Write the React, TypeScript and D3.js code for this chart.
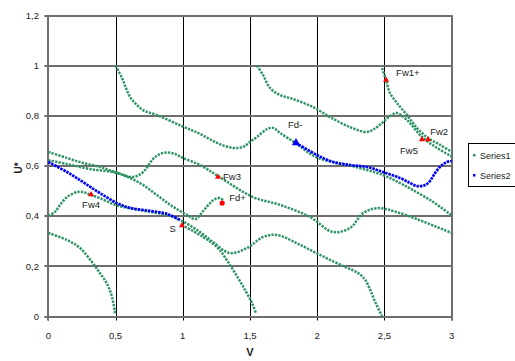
import React from 'react';
import * as d3 from 'd3';

type P = [number, number];

const W = 515;
const H = 361;

const xTickValues = [0, 0.5, 1, 1.5, 2, 2.5, 3];
const xTickLabels = ['0', '0,5', '1', '1,5', '2', '2,5', '3'];
const yTickValues = [0, 0.2, 0.4, 0.6, 0.8, 1, 1.2];
const yTickLabels = ['0', '0,2', '0,4', '0,6', '0,8', '1', '1,2'];

// Series1 – branches of the green family (V, U*)
const s1FromHalf: P[] = [
  [0.5, 1.0], [0.548, 0.951], [0.578, 0.911], [0.608, 0.875], [0.645, 0.851],
  [0.704, 0.823], [0.808, 0.803], [0.994, 0.759], [1.128, 0.728], [1.255, 0.692],
  [1.374, 0.672], [1.448, 0.676], [1.5, 0.696], [1.552, 0.716], [1.627, 0.747],
  [1.672, 0.752], [1.723, 0.732], [1.842, 0.69], [1.998, 0.634], [2.244, 0.602],
  [2.489, 0.564], [2.616, 0.532], [2.712, 0.504], [2.861, 0.457], [3.0, 0.403],
];
const s1FromOneHalf: P[] = [
  [1.552, 1.0], [1.597, 0.963], [1.649, 0.911], [1.723, 0.883], [1.82, 0.867],
  [1.968, 0.835], [2.095, 0.795], [2.244, 0.755], [2.37, 0.736], [2.444, 0.755],
  [2.541, 0.799], [2.593, 0.811], [2.668, 0.783], [2.779, 0.716], [2.891, 0.672],
  [3.0, 0.638],
];
const s1FromTwoHalf: P[] = [
  [2.482, 0.99], [2.512, 0.943], [2.541, 0.891], [2.593, 0.851], [2.668, 0.803],
  [2.743, 0.751], [2.825, 0.711], [2.914, 0.684], [3.0, 0.656],
];
const s1UpperLeft: P[] = [
  [0, 0.656], [0.139, 0.632], [0.258, 0.612], [0.384, 0.596], [0.497, 0.576],
  [0.631, 0.556], [0.705, 0.576], [0.779, 0.628], [0.831, 0.648], [0.883, 0.654],
  [0.942, 0.648], [1.002, 0.632], [1.128, 0.604], [1.262, 0.56], [1.523, 0.476],
  [1.723, 0.445], [1.946, 0.397], [2.117, 0.337], [2.244, 0.353], [2.341, 0.412],
  [2.445, 0.432], [2.616, 0.412], [3.0, 0.333],
];
const s1MiddleLeft: P[] = [
  [0, 0.623], [0.139, 0.608], [0.31, 0.588], [0.511, 0.572], [0.682, 0.532],
  [0.808, 0.484], [0.92, 0.44], [1.032, 0.405], [1.092, 0.388], [1.151, 0.42],
  [1.203, 0.452], [1.24, 0.468], [1.277, 0.472], [1.299, 0.464],
];
const s1LowerLeft: P[] = [
  [0, 0.401], [0.05, 0.417], [0.087, 0.445], [0.139, 0.476], [0.213, 0.496],
  [0.258, 0.496], [0.318, 0.484], [0.384, 0.472], [0.497, 0.445], [0.631, 0.429],
  [0.757, 0.417], [0.883, 0.405], [0.994, 0.381], [1.128, 0.337], [1.225, 0.297],
  [1.351, 0.253], [1.478, 0.273], [1.597, 0.317], [1.701, 0.325], [1.859, 0.289],
  [2.022, 0.245], [2.193, 0.201], [2.305, 0.173], [2.357, 0.146], [2.394, 0.106],
  [2.431, 0.058], [2.483, 0.0],
];
const s1FromS: P[] = [
  [0.994, 0.365], [1.151, 0.317], [1.262, 0.273], [1.337, 0.217], [1.411, 0.154],
  [1.471, 0.098], [1.515, 0.054], [1.545, 0.012],
];
const s1Bottom: P[] = [
  [0, 0.333], [0.139, 0.305], [0.236, 0.273], [0.325, 0.217], [0.384, 0.173],
  [0.437, 0.13], [0.474, 0.078], [0.497, 0.012],
];
const series1 = [s1FromHalf, s1FromOneHalf, s1FromTwoHalf, s1UpperLeft, s1MiddleLeft, s1LowerLeft, s1FromS, s1Bottom];

// Series2 – blue branches
const s2Left: P[] = [
  [0, 0.616], [0.139, 0.576], [0.258, 0.536], [0.384, 0.492], [0.511, 0.452],
  [0.608, 0.433], [0.757, 0.421], [0.883, 0.409], [0.979, 0.385],
];
const s2Right: P[] = [
  [1.842, 0.692], [1.998, 0.644], [2.117, 0.616], [2.244, 0.604], [2.37, 0.596],
  [2.489, 0.576], [2.616, 0.552], [2.691, 0.532], [2.743, 0.52], [2.803, 0.524],
  [2.838, 0.54], [2.876, 0.572], [2.92, 0.6], [2.965, 0.616], [3.0, 0.62],
];
const series2 = [s2Left, s2Right];

// Labelled points
const pointNames = ['Fw1+', 'Fw2', 'Fw5', 'Fd-', 'Fw3', 'Fd+', 'Fw4', 'S'];
const pointV = [2.512, 2.825, 2.779, 1.842, 1.262, 1.293, 0.318, 0.994];
const pointU = [0.943, 0.706, 0.706, 0.692, 0.556, 0.452, 0.486, 0.363];
const pointKind = ['tri', 'tri', 'tri', 'blueTri', 'tri', 'dot', 'tri', 'tri'];
// label offsets (px) relative to the point, and anchor
const labelDx = [10, 2, -4, -8, 5, 7, 0, -6];
const labelDy = [-7, -8, 11, -18, 0, -5, 10, 3];
const labelAnchor = ['start', 'start', 'end', 'start', 'start', 'start', 'middle', 'end'];

const legendNames = ['Series1', 'Series2'];

const GREEN = '#2e9463';
const BLUE = '#0000ff';

export default function App() {
  const x = d3.scaleLinear().domain([0, 3]).range([48.3, 451.7]);
  const y = d3.scaleLinear().domain([0, 1.2]).range([316.5, 15.5]);
  const line = d3
    .line<P>()
    .x((d) => x(d[0]))
    .y((d) => y(d[1]))
    .curve(d3.curveCatmullRom.alpha(0.5));
  const tri = d3.symbol().type(d3.symbolTriangle).size(16)() as string;
  const triBig = d3.symbol().type(d3.symbolTriangle).size(30)() as string;

  const font = "'Liberation Sans', Arial, sans-serif";

  return (
    <svg
      width={W}
      height={H}
      style={{ position: 'absolute', left: 0, top: 0, background: '#fff' }}
      fontFamily={font}
    >
      <rect width={W} height={H} fill="#fff" />
      {/* vertical grid */}
      {xTickValues.map((v, i) => (
        <line
          key={'vx' + i}
          x1={Math.round(x(v)) + 0.5}
          x2={Math.round(x(v)) + 0.5}
          y1={y(1.2)}
          y2={y(0) + 4}
          stroke="#000"
          strokeWidth={1}
        />
      ))}
      {/* horizontal grid */}
      {yTickValues.map((v, i) => (
        <line
          key={'hy' + i}
          x1={x(0) - 4}
          x2={x(3)}
          y1={Math.round(y(v))}
          y2={Math.round(y(v))}
          stroke="#6e6e6e"
          strokeWidth={2}
        />
      ))}
      {/* frame */}
      <line x1={Math.round(x(0))} x2={Math.round(x(0))} y1={y(1.2)} y2={y(0) + 4} stroke="#6e6e6e" strokeWidth={2} />
      <line x1={Math.round(x(3))} x2={Math.round(x(3))} y1={y(1.2)} y2={y(0) + 4} stroke="#6e6e6e" strokeWidth={2} />

      {/* y tick labels */}
      {yTickValues.map((v, i) => (
        <text key={'yl' + i} x={39} y={y(v)} dy="0.35em" textAnchor="end" fontSize={9.5} fill="#222">
          {yTickLabels[i]}
        </text>
      ))}
      {/* x tick labels */}
      {xTickValues.map((v, i) => (
        <text key={'xl' + i} x={x(v)} y={336} dy="0.35em" textAnchor="middle" fontSize={9.5} fill="#222">
          {xTickLabels[i]}
        </text>
      ))}

      {/* axis titles */}
      <text x={250} y={356} textAnchor="middle" fontSize={11} fontWeight="bold" fill="#222">
        V
      </text>
      <text
        transform={`translate(18,168) rotate(-90)`}
        textAnchor="middle"
        dy="0.35em"
        fontSize={10}
        fontWeight="bold"
        fill="#222"
      >
        U*
      </text>

      {/* Series1 */}
      {series1.map((b, i) => (
        <path
          key={'s1' + i}
          d={line(b) || ''}
          fill="none"
          stroke={GREEN}
          strokeWidth={2.5}
          strokeDasharray="2.3 1.2"
        />
      ))}
      {/* Series2 */}
      {series2.map((b, i) => (
        <path
          key={'s2' + i}
          d={line(b) || ''}
          fill="none"
          stroke={BLUE}
          strokeWidth={2.7}
          strokeDasharray="2.5 0.9"
        />
      ))}

      {/* labelled points */}
      {pointNames.map((n, i) => {
        const px = x(pointV[i]);
        const py = y(pointU[i]);
        const k = pointKind[i];
        return (
          <g key={'pt' + i}>
            {k === 'dot' ? (
              <circle cx={px} cy={py} r={2.6} fill="#ff0000" />
            ) : (
              <path
                d={k === 'blueTri' ? triBig : tri}
                transform={`translate(${px},${py})`}
                fill={k === 'blueTri' ? BLUE : '#ff0000'}
              />
            )}
            <text
              x={px + labelDx[i]}
              y={py + labelDy[i]}
              dy="0.35em"
              textAnchor={labelAnchor[i] as any}
              fontSize={9.5}
              fill="#222"
            >
              {n}
            </text>
          </g>
        );
      })}

      {/* legend */}
      <rect x={468.5} y={143.5} width={60} height={43} fill="#fff" stroke="#000" strokeWidth={1} />
      {legendNames.map((n, i) => (
        <g key={'lg' + i}>
          <rect x={473} y={154 + i * 20} width={2.5} height={2.5} fill={i === 0 ? GREEN : BLUE} />
          <text x={480} y={155.5 + i * 20} dy="0.35em" fontSize={9} fill="#222">
            {n}
          </text>
        </g>
      ))}
    </svg>
  );
}
